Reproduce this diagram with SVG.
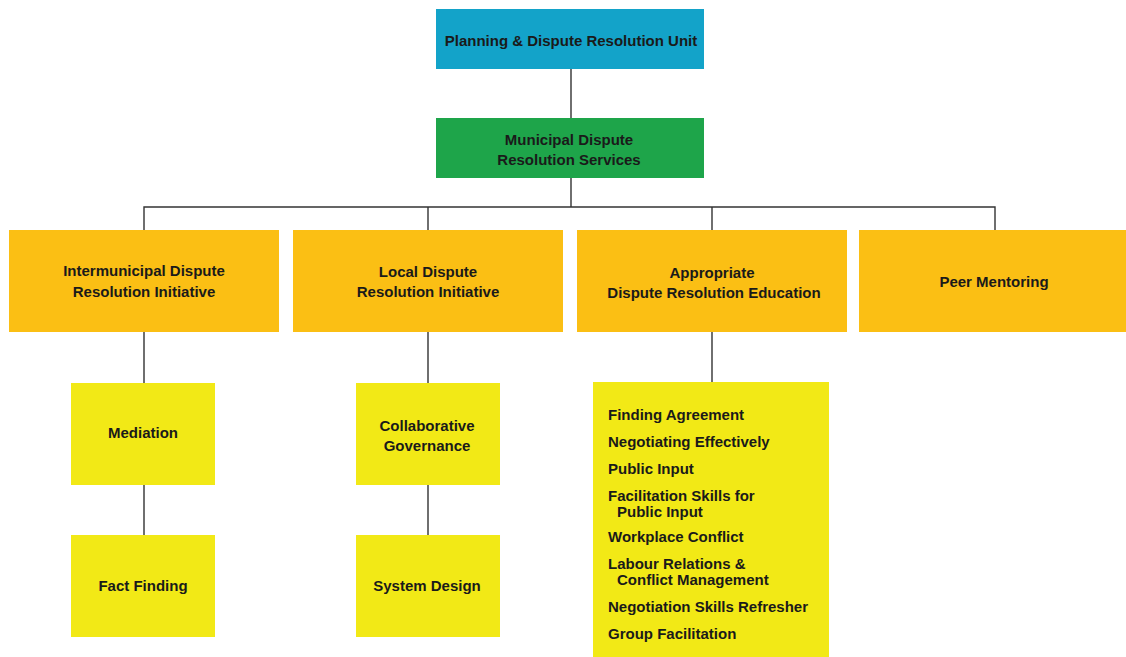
<svg xmlns="http://www.w3.org/2000/svg" width="1126" height="657" viewBox="0 0 1126 657">
  <style>
    .lbl { font-family: "Liberation Sans", Arial, sans-serif; font-weight: bold; font-size: 15px; fill: #1a1a1a; }
    .c { text-anchor: middle; }
    .unit { fill: #13a3c9; }
    .service { fill: #1ea54a; }
    .program { fill: #fbbf14; }
    .topic { fill: #f2e916; }
    .link { stroke: #333333; stroke-width: 1.4; fill: none; }
  </style>
  <rect width="1126" height="657" fill="#ffffff"/>

  <!-- connectors -->
  <g id="connectors">
    <path class="link" d="M571 69V118"/>
    <path class="link" d="M571 178V207"/>
    <path class="link" d="M144 230V207H995V230"/>
    <path class="link" d="M428 207V230"/>
    <path class="link" d="M712 207V230"/>
    <path class="link" d="M144 332V383M144 485V535"/>
    <path class="link" d="M428 332V383M428 485V535"/>
    <path class="link" d="M712 332V382"/>
  </g>

  <g id="planning-unit">
    <rect class="unit" x="436" y="9" width="268" height="60"/>
    <text class="lbl c" x="571" y="46">Planning &amp; Dispute Resolution Unit</text>
  </g>

  <g id="municipal-services">
    <rect class="service" x="436" y="118" width="268" height="60"/>
    <text class="lbl c" x="569" y="145">Municipal Dispute</text>
    <text class="lbl c" x="569" y="165">Resolution Services</text>
  </g>

  <g id="intermunicipal">
    <rect class="program" x="9" y="230" width="270" height="102"/>
    <text class="lbl c" x="144" y="276">Intermunicipal Dispute</text>
    <text class="lbl c" x="144" y="297">Resolution Initiative</text>
  </g>

  <g id="local">
    <rect class="program" x="293" y="230" width="270" height="102"/>
    <text class="lbl c" x="428" y="277">Local Dispute</text>
    <text class="lbl c" x="428" y="297">Resolution Initiative</text>
  </g>

  <g id="education">
    <rect class="program" x="577" y="230" width="270" height="102"/>
    <text class="lbl c" x="712" y="278">Appropriate</text>
    <text class="lbl c" x="714" y="298">Dispute Resolution Education</text>
  </g>

  <g id="peer-mentoring">
    <rect class="program" x="859" y="230" width="267" height="102"/>
    <text class="lbl c" x="994" y="287">Peer Mentoring</text>
  </g>

  <g id="mediation">
    <rect class="topic" x="71" y="383" width="144" height="102"/>
    <text class="lbl c" x="143" y="438">Mediation</text>
  </g>

  <g id="fact-finding">
    <rect class="topic" x="71" y="535" width="144" height="102"/>
    <text class="lbl c" x="143" y="591">Fact Finding</text>
  </g>

  <g id="collaborative-governance">
    <rect class="topic" x="356" y="383" width="144" height="102"/>
    <text class="lbl c" x="427" y="431">Collaborative</text>
    <text class="lbl c" x="427" y="451">Governance</text>
  </g>

  <g id="system-design">
    <rect class="topic" x="356" y="535" width="144" height="102"/>
    <text class="lbl c" x="427" y="591">System Design</text>
  </g>

  <g id="course-list">
    <rect class="topic" x="593" y="382" width="236" height="275"/>
    <text class="lbl" x="608" y="420">Finding Agreement</text>
    <text class="lbl" x="608" y="447">Negotiating Effectively</text>
    <text class="lbl" x="608" y="474">Public Input</text>
    <text class="lbl" x="608" y="501">Facilitation Skills for</text>
    <text class="lbl" x="617" y="517">Public Input</text>
    <text class="lbl" x="608" y="542">Workplace Conflict</text>
    <text class="lbl" x="608" y="569">Labour Relations &amp;</text>
    <text class="lbl" x="617" y="585">Conflict Management</text>
    <text class="lbl" x="608" y="612">Negotiation Skills Refresher</text>
    <text class="lbl" x="608" y="639">Group Facilitation</text>
  </g>
</svg>
